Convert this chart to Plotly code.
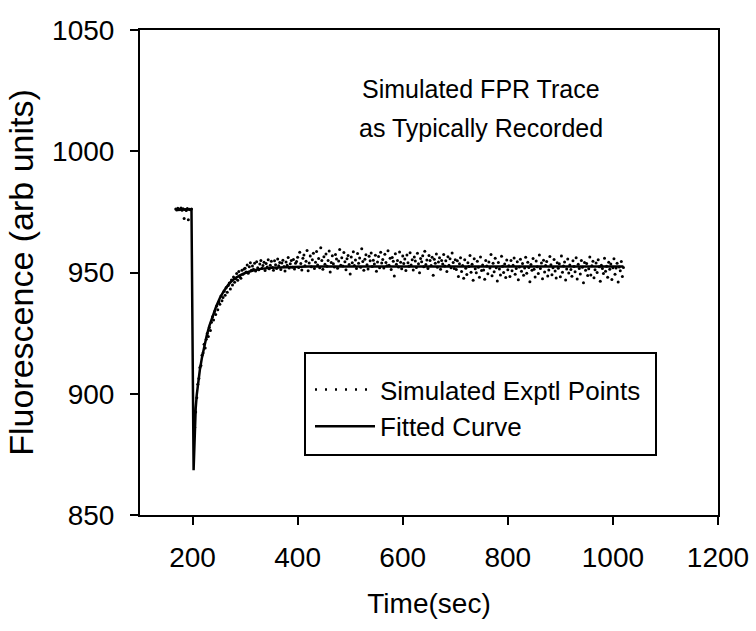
import plotly.graph_objects as go

# ---------------- data ----------------
# Scatter ("Simulated Exptl Points"): sampled every 2 s
pre_time = list(range(168, 200, 2))
pre_value = [976.2, 975.8, 976.5, 975.9, 976.1, 976.6, 975.7, 976.3,
             972.3, 976.0, 975.6, 976.4, 971.8, 976.1, 975.9, 976.2]

rise_time = list(range(204, 300, 2))
rise_value = [886.2, 892.5, 898.4, 903.9, 906.3, 910.8, 911.6, 915.9, 916.8, 920.4,
              918.9, 922.5, 924.8, 923.6, 927.3, 926.1, 929.5, 931.8, 930.4, 933.9,
              932.7, 936.2, 934.6, 937.8, 936.9, 940.3, 938.4, 939.7, 942.3, 940.6,
              943.8, 941.9, 944.6, 945.7, 943.2, 946.9, 944.8, 948.1, 946.0, 947.4,
              949.6, 946.8, 950.4, 948.2, 947.6, 950.9, 949.3, 951.4]

mid_time = list(range(300, 400, 2))
mid_value = [951.8, 950.2, 953.1, 949.7, 952.4, 954.0, 950.9, 952.7, 951.3, 953.8,
             950.6, 954.4, 952.0, 951.1, 953.5, 955.0, 951.8, 952.9, 954.2, 950.8,
             953.7, 952.3, 955.3, 951.5, 953.0, 954.6, 952.1, 950.9, 954.8, 953.2,
             951.7, 955.6, 952.8, 954.1, 951.2, 953.9, 955.1, 952.5, 950.6, 954.3,
             953.0, 956.2, 951.9, 953.6, 954.9, 952.2, 955.4, 951.4, 953.8, 954.5]

plateau1_time = list(range(400, 702, 2))
plateau1_value = [956.3, 952.1, 958.4, 953.7, 951.0, 955.9, 957.2, 952.8, 954.6, 959.1,
                  950.7, 953.9, 956.8, 952.4, 955.3, 957.9, 951.6, 954.2, 958.7, 953.1,
                  955.8, 952.0, 960.2, 954.9, 951.3, 956.5, 953.4, 957.6, 952.6, 955.0,
                  958.9, 950.2, 954.1, 956.9, 953.6, 952.3, 957.4, 955.6, 951.8, 954.7,
                  959.5, 953.0, 956.1, 952.7, 958.2, 954.4, 951.1, 955.7, 957.0, 953.3,
                  949.4, 956.4, 954.0, 958.6, 952.9, 955.2, 951.7, 957.8, 953.8, 956.0,
                  952.2, 959.8, 954.5, 950.9, 955.5, 957.3, 953.2, 951.4, 956.7, 954.8,
                  958.0, 952.5, 955.1, 953.5, 957.1, 950.5, 954.3, 956.6, 952.0, 958.3,
                  953.9, 955.4, 951.9, 957.5, 954.1, 952.8, 959.0, 953.0, 955.9, 951.2,
                  956.2, 954.6, 948.6, 957.7, 953.4, 955.0, 952.3, 958.5, 954.2, 951.5,
                  956.8, 953.7, 955.6, 950.8, 957.2, 954.0, 952.6, 958.1, 953.1, 955.3,
                  951.0, 956.4, 954.7, 952.1, 957.9, 953.6, 949.9, 955.8, 954.4, 956.9,
                  952.4, 958.8, 953.3, 955.2, 951.6, 957.0, 954.9, 952.9, 956.3, 948.9,
                  955.5, 953.8, 957.6, 952.2, 954.3, 956.1, 951.3, 955.0, 953.5, 957.4,
                  952.7, 954.8, 950.4, 956.5, 953.0, 955.7, 952.0, 958.0, 954.1, 951.7,
                  955.3]

plateau2_time = list(range(702, 1022, 2))
plateau2_value = [951.2, 954.8, 948.3, 953.6, 956.1, 950.4, 952.9, 947.6, 955.3, 951.8,
                  949.2, 954.0, 952.5, 957.0, 950.1, 953.4, 946.8, 955.7, 951.5, 949.9,
                  954.6, 952.2, 948.0, 956.4, 950.8, 953.1, 951.0, 947.2, 955.0, 952.7,
                  949.5, 954.3, 951.9, 957.4, 948.7, 953.8, 950.3, 955.9, 952.0, 946.5,
                  954.1, 951.4, 949.0, 956.7, 952.6, 950.0, 953.5, 947.9, 955.2, 951.1,
                  952.8, 948.4, 954.9, 950.7, 953.0, 956.0, 949.3, 951.6, 954.4, 947.0,
                  952.3, 955.5, 950.5, 953.7, 948.9, 951.9, 956.3, 949.7, 954.2, 952.1,
                  946.2, 953.3, 950.9, 955.8, 951.3, 948.1, 954.7, 952.4, 949.6, 957.2,
                  951.7, 953.9, 947.4, 955.1, 950.2, 952.9, 954.5, 948.6, 951.0, 956.6,
                  953.2, 949.1, 952.0, 955.4, 950.6, 947.7, 954.0, 951.8, 953.6, 948.2,
                  956.8, 950.1, 952.7, 954.3, 946.9, 951.4, 955.6, 949.8, 953.1, 951.2,
                  948.5, 954.8, 952.5, 950.3, 956.1, 947.3, 953.4, 951.6, 949.4, 955.0,
                  952.2, 945.8, 954.1, 950.9, 953.7, 948.8, 951.5, 956.4, 949.0, 952.8,
                  954.6, 947.8, 951.1, 953.9, 950.0, 955.3, 952.4, 946.4, 953.0, 951.7,
                  949.6, 955.9, 950.5, 952.6, 948.0, 954.2, 951.3, 953.5, 947.1, 952.0,
                  955.7, 949.3, 951.9, 953.8, 946.1, 952.3, 950.7, 954.5, 948.3, 952.1]

# Fitted curve
fit_time = [168, 198, 202, 204, 206, 208, 210, 214, 218, 222, 227, 232, 238, 245,
            252, 260, 270, 280, 290, 300, 315, 330, 350, 380, 420, 1020]
fit_value = [976.0, 976.0, 868.5, 886.0, 894.0, 899.5, 903.5, 910.0, 915.0, 919.5,
             924.0, 928.0, 932.0, 936.0, 939.5, 942.5, 945.5, 947.5, 948.8, 949.8,
             950.8, 951.5, 952.0, 952.3, 952.5, 952.5]

x_ticks = [200, 400, 600, 800, 1000, 1200]
y_ticks = [850, 900, 950, 1000, 1050]

FONT = "Liberation Sans, Arial, sans-serif"

pts_time = pre_time + rise_time + mid_time + plateau1_time + plateau2_time
pts_value = pre_value + rise_value + mid_value + plateau1_value + plateau2_value

fig = go.Figure()
fig.add_trace(go.Scatter(x=pts_time, y=pts_value, mode="markers",
                         marker=dict(color="black", size=3, line=dict(width=0)),
                         showlegend=False, name="Simulated Exptl Points"))
fig.add_trace(go.Scatter(x=fit_time, y=fit_value, mode="lines",
                         line=dict(color="black", width=2.5),
                         showlegend=False, name="Fitted Curve"))
# legend entries
fig.add_trace(go.Scatter(x=[None], y=[None], mode="lines", name="Simulated Exptl Points",
                         line=dict(color="black", width=2.5, dash="2px,8px")))
fig.add_trace(go.Scatter(x=[None], y=[None], mode="lines", name="Fitted Curve",
                         line=dict(color="black", width=2.5)))

L, R, T, B = 140, 38, 30, 116
W, H = 756, 631
pw, ph = W - L - R, H - T - B

def px(xp):
    return (xp - L) / pw

def py(yp):
    return (H - B - yp) / ph

fig.update_layout(
    width=W, height=H,
    margin=dict(l=L, r=R, t=T, b=B, autoexpand=False),
    paper_bgcolor="white", plot_bgcolor="white",
    font=dict(family=FONT, color="black", size=26),
    showlegend=True,
    legend=dict(x=px(310), y=py(366), xanchor="left", yanchor="top",
                bgcolor="rgba(0,0,0,0)", borderwidth=0,
                font=dict(size=26, family=FONT), itemwidth=60,
                tracegroupgap=0),
    xaxis=dict(range=[100, 1200], tickvals=x_ticks, ticks="outside", ticklen=8,
               tickwidth=2, tickcolor="black", showline=True, linecolor="black",
               linewidth=2, mirror=True, showgrid=False, zeroline=False,
               tickfont=dict(size=28, family=FONT), ticklabelstandoff=8,
               title=dict(text="Time(sec)", font=dict(size=28, family=FONT), standoff=22)),
    yaxis=dict(range=[850, 1050], tickvals=y_ticks, ticks="outside", ticklen=8,
               tickwidth=2, tickcolor="black", showline=True, linecolor="black",
               linewidth=2, mirror=True, showgrid=False, zeroline=False,
               tickfont=dict(size=28, family=FONT), ticklabelstandoff=10,
               title=dict(text="Fluorescence (arb units)", font=dict(size=34, family=FONT),
                          standoff=8)),
    shapes=[dict(type="rect", xref="paper", yref="paper",
                 x0=px(305), x1=px(656), y0=py(455), y1=py(353),
                 line=dict(color="black", width=2), fillcolor="rgba(0,0,0,0)")],
    annotations=[
        dict(text="Simulated FPR Trace", xref="paper", yref="paper",
             x=px(481), y=py(89), xanchor="center", yanchor="middle",
             showarrow=False, font=dict(size=25, family=FONT)),
        dict(text="as Typically Recorded", xref="paper", yref="paper",
             x=px(481), y=py(128), xanchor="center", yanchor="middle",
             showarrow=False, font=dict(size=25, family=FONT)),
    ],
)

fig.write_html("out.html")
